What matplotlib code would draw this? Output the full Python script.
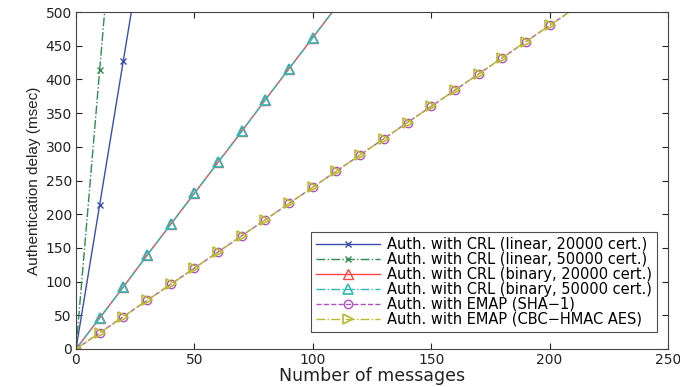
import matplotlib.pyplot as plt

plt.rcParams['font.family'] = ['DejaVu Sans']

# number of messages
msgs_lin20 = [0, 10, 20, 30]
delay_lin20 = [0, 214, 428, 642]
msgs_lin50 = [0, 10, 20]
delay_lin50 = [0, 414, 828]
msgs_bin = [0, 10, 20, 30, 40, 50, 60, 70, 80, 90, 100, 110]
delay_bin20 = [0, 46, 92, 139, 185, 231, 277, 323, 370, 416, 462, 508]
delay_bin50 = [0, 46, 92, 139, 185, 231, 277, 323, 370, 416, 462, 508]
msgs_emap = [0, 10, 20, 30, 40, 50, 60, 70, 80, 90, 100, 110, 120, 130, 140,
             150, 160, 170, 180, 190, 200, 210]
delay_sha1 = [0, 24, 48, 72, 96, 120, 144, 168, 192, 216, 240, 264, 288, 312,
              336, 360, 384, 408, 432, 456, 480, 504]
delay_aes = [0, 24, 48, 72, 96, 120, 144, 168, 192, 216, 240, 264, 288, 312,
             336, 360, 384, 408, 432, 456, 480, 504]

fig = plt.figure(figsize=(6.8, 3.87), dpi=100)
ax = fig.add_axes([76 / 680, 38 / 387, 592 / 680, 337 / 387])

# last point of each series only carries the line past the top edge
inner = slice(0, -1)
ax.plot(msgs_lin20, delay_lin20, '-', color='#3a4db4', marker='x', ms=5, lw=1,
        markevery=inner, label='Auth. with CRL (linear, 20000 cert.)')
ax.plot(msgs_lin50, delay_lin50, '-.', color='#2e8b50', marker='x', ms=5, lw=1,
        markevery=inner, label='Auth. with CRL (linear, 50000 cert.)')
ax.plot(msgs_bin, delay_bin20, '-', color='#ff4545', marker='^', ms=7.5, lw=1,
        mfc='none', markevery=inner, label='Auth. with CRL (binary, 20000 cert.)')
ax.plot(msgs_bin, delay_bin50, '-.', color='#30b8b8', marker='^', ms=7.5, lw=1,
        mfc='none', mew=1.2, markevery=inner,
        label='Auth. with CRL (binary, 50000 cert.)')
ax.plot(msgs_emap, delay_sha1, '--', color='#b050c0', marker='o', ms=6, lw=1,
        mfc='none', markevery=inner, label='Auth. with EMAP (SHA\u22121)')
ax.plot(msgs_emap, delay_aes, '-.', color='#baba30', marker='>', ms=7, lw=1,
        mfc='none', mew=1.2, markevery=inner,
        label='Auth. with EMAP (CBC\u2212HMAC AES)')

ax.set_xlim(0, 250)
ax.set_ylim(0, 500)
ax.set_xticks([0, 50, 100, 150, 200, 250])
ax.set_yticks(range(0, 501, 50))
ax.tick_params(direction='in', labelsize=10, top=True, right=True, length=4,
               colors='#222222', pad=3)
for s in ax.spines.values():
    s.set_color('#444444')
ax.set_xlabel('Number of messages', fontsize=12.5, labelpad=0, color='#222222')
ax.set_ylabel('Authentication delay (msec)', fontsize=11, labelpad=3,
              color='#222222', family='Liberation Sans')

leg = ax.legend(loc='lower right', bbox_to_anchor=(657 / 680, 55 / 387),
                bbox_transform=fig.transFigure, fontsize=10.5, frameon=True,
                fancybox=False, edgecolor='#222222', handlelength=4.4,
                handletextpad=0.45, borderpad=0.35, labelspacing=0.0,
                borderaxespad=0)
leg.get_frame().set_linewidth(0.8)

fig.savefig('out.png', dpi=100)
